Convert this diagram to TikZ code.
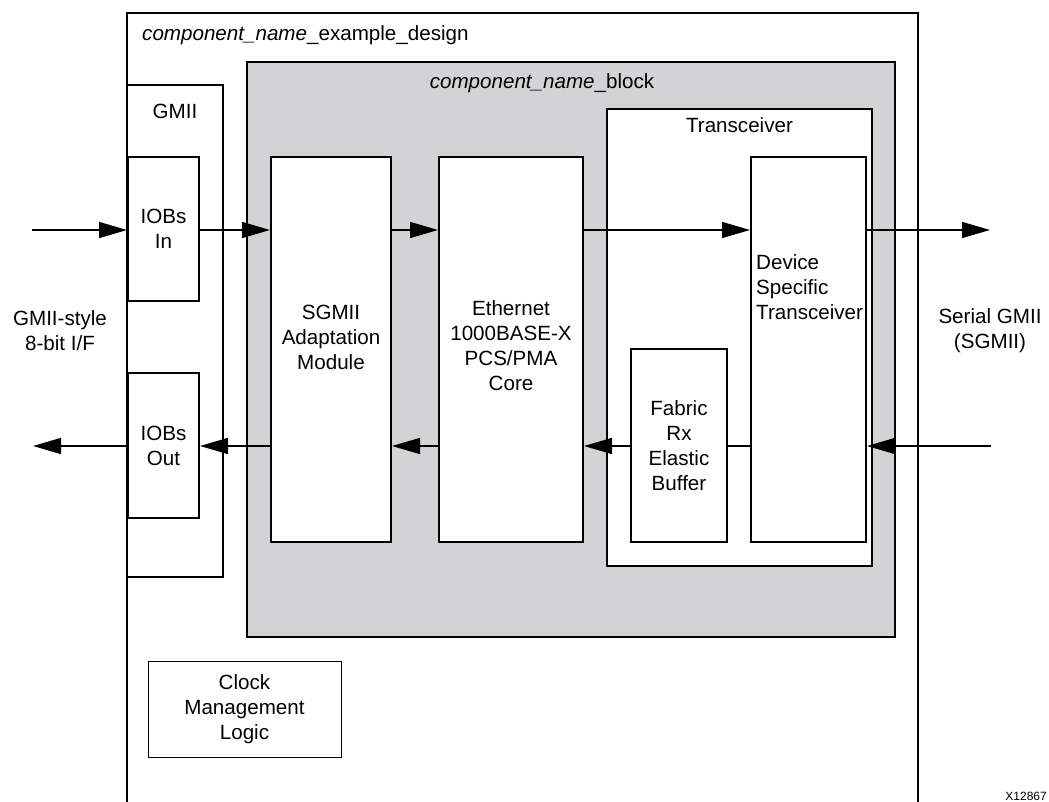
\documentclass[tikz,border=0pt]{standalone}
\usepackage{fontspec}
\setmainfont{Liberation Sans}
\usetikzlibrary{arrows.meta, positioning}
\definecolor{blockgray}{RGB}{210, 211, 213}

\begin{document}
\begin{tikzpicture}[x=1pt, y=-1pt,
  font=\fontsize{20.6}{25}\selectfont,
  box/.style={draw, line width=2pt, fill=white, inner sep=0pt, align=center},
  txt/.style={align=center, inner sep=0pt},
  arr/.style={line width=1.5pt, -{Triangle[length=28pt, width=16pt]}},
  link/.style={line width=1.5pt}]
  \useasboundingbox (0,0) rectangle (1049,802);

  % example design wrapper, open at the bottom
  \draw[line width=2pt] (127,802) -- (127,13) -- (918,13) -- (918,802);
  \node[anchor=base west, inner sep=0pt] (designlbl) at (142,41) {\textit{component\_name}\_example\_design};

  \node[box, fill=blockgray, minimum width=648pt, minimum height=575pt] (block) at (571,349.5) {};
  \node[anchor=base, inner sep=0pt] (blocklbl) at (542,89) {\textit{component\_name}\_block};

  % GMII pads
  \node[box, minimum width=96pt, minimum height=492pt] (gmii) at (175,331) {};
  \node[anchor=base, inner sep=0pt] (gmiilbl) at (175,119) {GMII};
  \node[box, minimum width=71pt, minimum height=144pt] (iobin) at (163.5,229) {IOBs\\In};
  \node[box, minimum width=71pt, minimum height=145pt] (iobout) at (163.5,445.5) {IOBs\\Out};

  % block contents
  \node[box, minimum width=120pt, minimum height=385pt] (sgmii) at (331,349.5) {};
  \node[txt] (sgmiitxt) at (331,337) {SGMII\\Adaptation\\Module};
  \node[box, minimum width=144pt, minimum height=385pt] (eth) at (511,349.5) {};
  \node[txt] (ethtxt) at (511,346) {Ethernet\\1000BASE-X\\PCS/PMA\\Core};

  \node[box, minimum width=265pt, minimum height=457pt] (xcvr) at (739.5,337.5) {};
  \node[anchor=base, inner sep=0pt] (xcvrlbl) at (739.5,133) {Transceiver};
  \node[box, minimum width=115pt, minimum height=385pt] (dev) at (808.5,349.5) {};
  \node[txt, align=left, anchor=west] (devtxt) at (756,287) {Device\\Specific\\Transceiver};
  \node[box, minimum width=96pt, minimum height=193pt] (fabric) at (679,445.5) {Fabric\\Rx\\Elastic\\Buffer};

  \node[box, line width=1pt, minimum width=193pt, minimum height=96pt] (clk) at (244.5,709) {Clock\\Management\\Logic};

  % interface labels
  \node[txt] (gmiistyle) at (60,331) {GMII-style\\8-bit I/F};
  \node[txt] (serial) at (990,331) {Serial GMII\\(SGMII)};
  \node[anchor=base east, inner sep=0pt, font=\fontsize{12}{14}\selectfont] (fignum) at (1047,800) {X12867};

  % transmit path
  \coordinate (gmiiin) at (32,230);
  \coordinate (sgmiiout) at (990,230);
  \draw[arr] (gmiiin) -- (gmiiin -| iobin.west);
  \draw[arr] (gmiiin -| iobin.east) -- (gmiiin -| sgmii.west);
  \draw[arr] (gmiiin -| sgmii.east) -- (gmiiin -| eth.west);
  \draw[arr] (gmiiin -| eth.east) -- (gmiiin -| dev.west);
  \draw[arr] (gmiiin -| dev.east) -- (sgmiiout);

  % receive path
  \coordinate (sgmiiin) at (991,446);
  \coordinate (gmiiout) at (33,446);
  \draw[arr] (sgmiiin) -- (sgmiiin -| dev.east);
  \draw[link] (sgmiiin -| dev.west) -- (sgmiiin -| fabric.east);
  \draw[arr] (sgmiiin -| fabric.west) -- (sgmiiin -| eth.east);
  \draw[arr] (sgmiiin -| eth.west) -- (sgmiiin -| sgmii.east);
  \draw[arr] (sgmiiin -| sgmii.west) -- (sgmiiin -| iobout.east);
  \draw[arr] (sgmiiin -| iobout.west) -- (gmiiout);
\end{tikzpicture}
\end{document}
